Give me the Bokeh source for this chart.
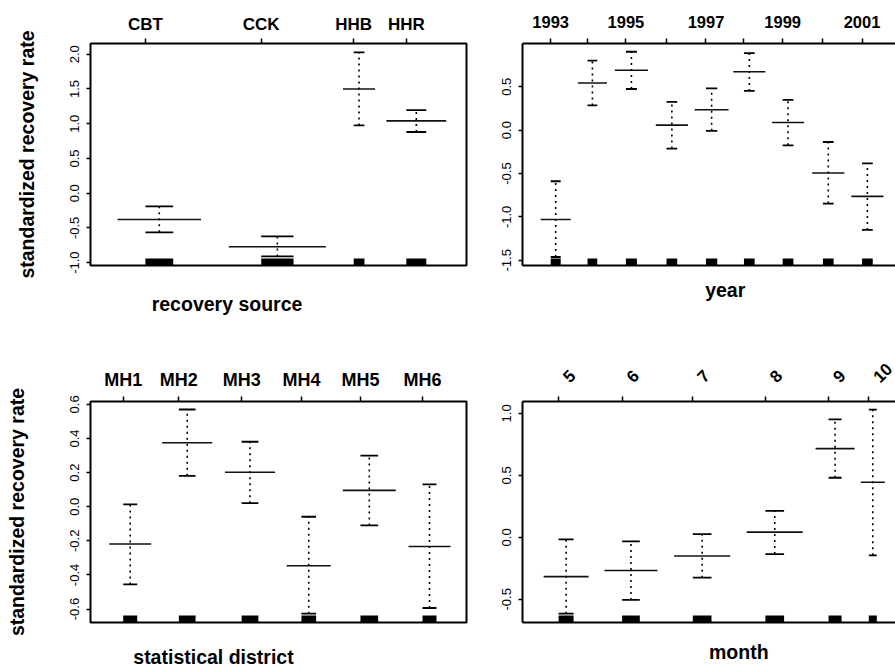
import math
from bokeh.plotting import figure
from bokeh.models import FixedTicker, LinearAxis, Range1d, NumeralTickFormatter
from bokeh.layouts import column, row
from bokeh.embed import file_html
from bokeh.resources import INLINE

# ---------------- data ----------------
# category positions / widths are in axis units (0-100 across each panel box)
src_cats = ["CBT", "CCK", "HHB", "HHR"]
src_pos = [14.6, 45.4, 70.0, 84.0]
src_width = [7.4, 8.6, 2.85, 5.3]
src_mean = [-0.379, -0.771, 1.501, 1.041]
src_lower = [-0.564, -0.91, 0.976, 0.881]
src_upper = [-0.189, -0.621, 2.027, 1.197]

year_cats = ["1993", "1994", "1995", "1996", "1997", "1998", "1999", "2000", "2001"]
year_shown = ["1993", "", "1995", "", "1997", "", "1999", "", "2001"]
year_pos = [7.5, 17.3, 27.5, 38.3, 48.8, 58.9, 69.2, 79.9, 90.3]
year_width = [2.66, 2.58, 2.93, 2.85, 3.0, 2.85, 2.85, 2.85, 2.85]
year_mean = [-1.030, 0.542, 0.690, 0.057, 0.235, 0.672, 0.087, -0.494, -0.763]
year_lower = [-1.462, 0.285, 0.474, -0.213, -0.008, 0.451, -0.175, -0.847, -1.150]
year_upper = [-0.589, 0.801, 0.903, 0.326, 0.482, 0.888, 0.349, -0.137, -0.384]

dist_cats = ["MH1", "MH2", "MH3", "MH4", "MH5", "MH6"]
dist_pos = [8.7, 23.5, 40.2, 56.1, 71.8, 88.3]
dist_width = [3.72, 4.44, 4.44, 3.9, 4.7, 3.72]
dist_mean = [-0.219, 0.375, 0.202, -0.346, 0.096, -0.233]
dist_lower = [-0.456, 0.181, 0.021, -0.627, -0.110, -0.594]
dist_upper = [0.014, 0.570, 0.381, -0.059, 0.300, 0.131]

month_cats = ["5", "6", "7", "8", "9", "10"]
month_pos = [9.6, 26.5, 45.3, 64.6, 81.4, 92.1]
month_width = [3.99, 4.7, 4.97, 4.97, 3.46, 2.13]
month_mean = [-0.317, -0.267, -0.151, 0.042, 0.716, 0.444]
month_lower = [-0.616, -0.505, -0.325, -0.135, 0.481, -0.145]
month_upper = [-0.016, -0.032, 0.026, 0.214, 0.951, 1.030]

FONT = "Liberation Sans"
NB = "\u00a0"


def panel(width, height, mb, yr, xend, yticks, pos, wid, mean, lower, upper,
          labels, label_size, label_standoff=4, ylabel=None, ylabel_standoff=30,
          full_box=True, xtitle="", xtitle_standoff=20, rotated=False):
    left, right, top, bottom = mb
    frame_h = height - top - bottom
    p = figure(width=width, height=height, x_range=Range1d(0, xend),
               y_range=Range1d(*yr), x_axis_location="above",
               toolbar_location=None, output_backend="svg",
               min_border_left=left, min_border_right=right,
               min_border_top=top, min_border_bottom=bottom)
    p.xgrid.visible = False
    p.ygrid.visible = False
    p.background_fill_color = "white"
    p.border_fill_color = "white"

    centers = [a + b / 2 for a, b in zip(pos, wid)]
    rights = [a + b for a, b in zip(pos, wid)]
    m0 = [c - 1.5 * b for c, b in zip(centers, wid)]
    m1 = [c + 1.5 * b for c, b in zip(centers, wid)]
    rug_top = yr[0] + (yr[1] - yr[0]) * 7.0 / frame_h

    p.segment(x0=centers, y0=lower, x1=centers, y1=upper, line_color="black",
              line_width=1.6, line_dash="2 4")
    p.segment(x0=pos, y0=upper, x1=rights, y1=upper, line_color="black", line_width=1.8)
    p.segment(x0=pos, y0=lower, x1=rights, y1=lower, line_color="black", line_width=1.8)
    p.segment(x0=m0, y0=mean, x1=m1, y1=mean, line_color="#111111", line_width=1.6)
    p.quad(left=pos, right=rights, bottom=yr[0], top=rug_top,
           fill_color="black", line_color=None)

    # top (category) axis
    xa = p.xaxis[0]
    xa.ticker = FixedTicker(ticks=pos)
    xa.major_tick_out = 5
    xa.major_tick_in = 0
    xa.major_tick_line_width = 1.5
    xa.major_tick_line_color = "black"
    xa.minor_tick_line_color = None
    xa.major_label_text_font = FONT
    xa.major_label_text_font_style = "bold"
    xa.major_label_text_font_size = label_size
    xa.major_label_text_color = "black"
    xa.major_label_standoff = label_standoff
    if rotated:
        xa.major_label_overrides = {k: "" for k in pos}
        xa.major_label_text_font_size = "0px"
        xa.major_label_standoff = 0
        p.extra_x_ranges = {"lab": Range1d(-1.9, xend - 1.9)}
        la = LinearAxis(x_range_name="lab", ticker=FixedTicker(ticks=pos),
                        axis_line_color=None, major_tick_line_color=None,
                        minor_tick_line_color=None, major_tick_out=0, major_tick_in=0,
                        major_label_orientation=math.pi / 4,
                        major_label_standoff=label_standoff,
                        major_label_text_font=FONT, major_label_text_font_style="bold",
                        major_label_text_font_size=label_size,
                        major_label_text_color="black")
        la.major_label_overrides = {k: v for k, v in zip(pos, labels)}
        p.add_layout(la, "above")
    else:
        xa.major_label_overrides = {k: v for k, v in zip(pos, labels)}

    ya = p.yaxis[0]
    ya.ticker = FixedTicker(ticks=yticks)
    ya.formatter = NumeralTickFormatter(format="0.0")
    ya.major_label_orientation = "vertical"
    ya.major_tick_out = 4
    ya.major_tick_in = 0
    ya.major_tick_line_width = 1.5
    ya.major_tick_line_color = "black"
    ya.minor_tick_line_color = None
    ya.major_label_text_font = FONT
    ya.major_label_text_font_size = "13px"
    ya.major_label_text_color = "black"
    ya.major_label_standoff = 7
    if ylabel:
        ya.axis_label = ylabel
        ya.axis_label_text_font = FONT
        ya.axis_label_text_font_style = "bold"
        ya.axis_label_text_font_size = "19.5px"
        ya.axis_label_text_color = "black"
        ya.axis_label_standoff = ylabel_standoff

    bx = LinearAxis(ticker=FixedTicker(ticks=[]), major_label_text_font_size="0px",
                    major_label_standoff=0, major_tick_out=0, major_tick_in=0,
                    major_tick_line_color=None, minor_tick_line_color=None,
                    axis_label=xtitle, axis_label_standoff=xtitle_standoff,
                    axis_label_text_font=FONT, axis_label_text_font_style="bold",
                    axis_label_text_font_size="19.5px", axis_label_text_color="black")
    if full_box:
        p.outline_line_color = "black"
        p.outline_line_width = 2
        xa.axis_line_color = None
        ya.axis_line_color = None
        bx.axis_line_color = None
    else:
        p.outline_line_color = None
        xa.axis_line_color = "black"
        xa.axis_line_width = 2
        ya.axis_line_color = "black"
        ya.axis_line_width = 2
        bx.axis_line_color = "black"
        bx.axis_line_width = 2
    p.add_layout(bx, "below")
    return p


p1 = panel(480, 330, (90, 14, 43, 62), (-1.041, 2.155), 100,
           [-1.0, -0.5, 0.0, 0.5, 1.0, 1.5, 2.0],
           src_pos, src_width, src_mean, src_lower, src_upper, src_cats, "17px",
           label_standoff=5,
           ylabel="standardized recovery rate", ylabel_standoff=30,
           xtitle="recovery source" + NB * 19, xtitle_standoff=27)

p2 = panel(415, 330, (42, 0, 41, 65), (-1.56, 0.998), 373 / 3.76,
           [-1.5, -1.0, -0.5, 0.0, 0.5],
           year_pos, year_width, year_mean, year_lower, year_upper, year_shown, "16.5px",
           label_standoff=11,
           full_box=False, xtitle=NB * 6 + "year", xtitle_standoff=13)

p3 = panel(480, 340, (90, 14, 71, 45), (-0.679, 0.617), 100,
           [-0.6, -0.4, -0.2, 0.0, 0.2, 0.4, 0.6],
           dist_pos, dist_width, dist_mean, dist_lower, dist_upper, dist_cats, "18px",
           label_standoff=7,
           ylabel="standardized recovery rate", ylabel_standoff=40,
           xtitle="statistical district" + NB * 24, xtitle_standoff=23)

p4 = panel(415, 340, (42, 0, 71, 44), (-0.687, 1.096), 373 / 3.76,
           [-0.5, 0.0, 0.5, 1.0],
           month_pos, month_width, month_mean, month_lower, month_upper, month_cats, "17px",
           label_standoff=17,
           full_box=False, xtitle=NB * 11 + "month", xtitle_standoff=18, rotated=True)

layout = column(row(p1, p2, spacing=0), row(p3, p4, spacing=0), spacing=0)

open("out.html", "w").write(file_html(layout, INLINE))
